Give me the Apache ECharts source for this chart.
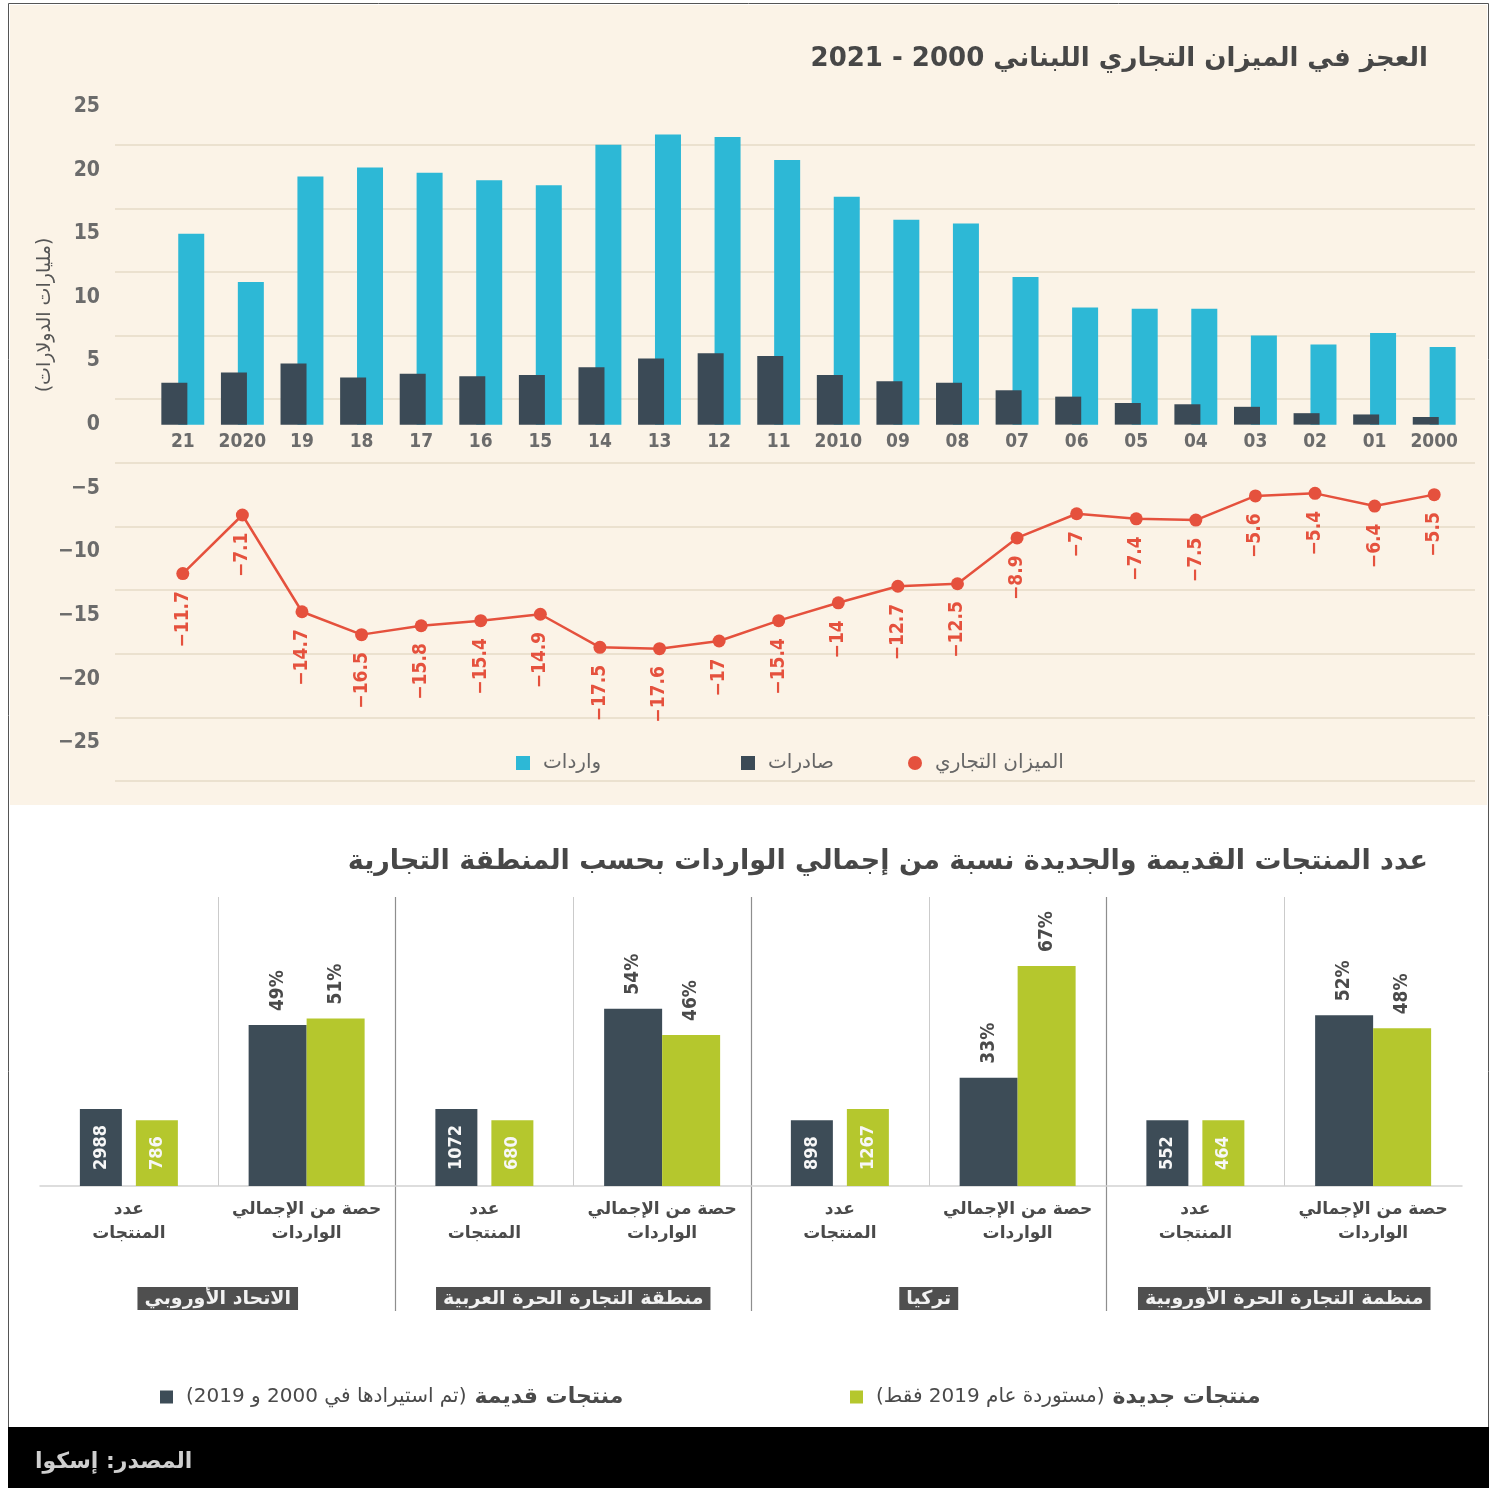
<!DOCTYPE html>
<html lang="ar">
<head>
<meta charset="utf-8">
<title>الميزان التجاري اللبناني</title>
<script src="https://cdn.jsdelivr.net/npm/echarts@6/dist/echarts.min.js"></script>
<style>
  html, body { margin: 0; padding: 0; background: #ffffff; }
  #chart { width: 1495px; height: 1488px; }
</style>
</head>
<body>
<div id="chart"></div>
<script>
// Lebanese trade, 2021 back to 2000 (billions of dollars)
const years = ['21', '2020', '19', '18', '17', '16', '15', '14', '13', '12', '11',
               '2010', '09', '08', '07', '06', '05', '04', '03', '02', '01', '2000'];
const importsBn = [15.0, 11.2, 19.5, 20.2, 19.8, 19.2, 18.8, 22.0, 22.8, 22.6, 20.8,
                   17.9, 16.1, 15.8, 11.6, 9.2, 9.1, 9.1, 7.0, 6.3, 7.2, 6.1];
const exportsBn = [3.3, 4.1, 4.8, 3.7, 4.0, 3.8, 3.9, 4.5, 5.2, 5.6, 5.4,
                   3.9, 3.4, 3.3, 2.7, 2.2, 1.7, 1.6, 1.4, 0.9, 0.8, 0.6];
const balanceBn = [-11.7, -7.1, -14.7, -16.5, -15.8, -15.4, -14.9, -17.5, -17.6, -17, -15.4,
                   -14, -12.7, -12.5, -8.9, -7, -7.4, -7.5, -5.6, -5.4, -6.4, -5.5];

// Old and new products by trade area
const regions = ['الاتحاد الأوروبي', 'منطقة التجارة الحرة العربية', 'تركيا', 'منظمة التجارة الحرة الأوروبية'];
const measures = ['عدد\nالمنتجات', 'حصة من الإجمالي\nالواردات'];
const oldCount = [2988, 1072, 898, 552];
const newCount = [786, 680, 1267, 464];
const oldShare = [49, 54, 33, 52];
const newShare = [51, 46, 67, 48];

const NAME_IMP = 'واردات';
const NAME_EXP = 'صادرات';
const NAME_BAL = 'الميزان التجاري';
const NAME_OLD = 'منتجات قديمة';
const NAME_NEW = 'منتجات جديدة';
const NOTE_OLD = '(تم استيرادها في 2000 و 2019)';
const NOTE_NEW = '(مستوردة عام 2019 فقط)';

const AR = "'DejaVu Sans', sans-serif";
const NUM = "'Liberation Sans Narrow', 'DejaVu Sans Condensed', 'Roboto', sans-serif";
const NUM_C = "'DejaVu Sans Condensed', 'DejaVu Sans', sans-serif";

const C_IMP = '#2db8d6';
const C_EXP = '#3b4a56';
const C_BAL = '#e5513d';
const C_OLD = '#3d4c57';
const C_NEW = '#b5c72d';
const C_GRID = '#ebe1cf';

// shared value range of the upper panel (bars above zero, balance below)
const Y_MIN = -28;
const Y_MAX = 27;
const PANEL_TOP = 81;
const PANEL_H = 700;
const ZERO_SHIFT = Math.round(PANEL_H * (0 - Y_MIN) / (Y_MAX - Y_MIN));

const minus = s => String(s).replace('-', '\u2212');

// eight bottom categories: each area has a count column and a share column
const areaCats = regions.flatMap((r, i) => measures.map((m, j) => r + '#' + j));
const shareOf = arr => arr.flatMap(v => [null, v]);
const countOf = arr => arr.map((v, i) => [i * 2, v]);

function countBox(color, side) {
  return function (params, api) {
    const p = api.coord([api.value(0), 0]);
    return {
      type: 'text',
      x: p[0] + side * 28,
      y: p[1],
      rotation: Math.PI / 2,
      style: {
        text: String(api.value(1)),
        fill: '#f7f7f7',
        font: 'bold 18px ' + NUM_C,
        backgroundColor: color,
        padding: [11, 16, 11, 16],
        lineHeight: 20,
        align: 'left',
        verticalAlign: 'middle'
      }
    };
  };
}

const legendText = { color: '#666', fontSize: 20, fontFamily: AR, padding: [0, 0, 0, 8] };
const bottomLegendRich = {
  rich: {
    n: { fontSize: 20, color: '#4a4a4a', fontFamily: AR },
    b: { fontSize: 22, fontWeight: 'bold', color: '#4a4a4a', fontFamily: AR, padding: [0, 0, 0, 8] }
  },
  padding: [0, 0, 0, 8]
};

const chart = echarts.init(document.getElementById('chart'), null, { renderer: 'canvas' });

chart.setOption({
  backgroundColor: '#ffffff',
  animation: false,
  graphic: [
    { type: 'rect', z: -100, silent: true, shape: { x: 8.5, y: 3.5, width: 1480, height: 1424 },
      style: { fill: '#ffffff', stroke: '#555', lineWidth: 1 } },
    { type: 'rect', z: -99, silent: true, shape: { x: 10, y: 5, width: 1477, height: 800 },
      style: { fill: '#fbf3e7' } },
    { type: 'rect', z: -99, silent: true, shape: { x: 8, y: 1427, width: 1481, height: 61 },
      style: { fill: '#000000' } },
    { type: 'text', z: 100, x: 35, y: 1462, silent: true,
      style: { text: 'المصدر: إسكوا', fill: '#cfcfcf', font: 'bold 22px ' + AR,
               align: 'left', verticalAlign: 'middle' } },
    { type: 'text', z: 100, x: 45, y: 315, rotation: Math.PI / 2, silent: true,
      style: { text: '(مليارات الدولارات)', fill: '#555', font: '19px ' + AR,
               align: 'center', verticalAlign: 'middle' } }
  ],
  title: [
    { text: 'العجز في الميزان التجاري اللبناني 2000 - 2021', right: 62, top: 41,
      textStyle: { fontSize: 26, fontWeight: 'bold', color: '#474747', fontFamily: AR } },
    { text: 'عدد المنتجات القديمة والجديدة نسبة من إجمالي الواردات بحسب المنطقة التجارية',
      right: 62, top: 843,
      textStyle: { fontSize: 27, fontWeight: 'bold', color: '#474747', fontFamily: AR } }
  ],
  legend: [
    { data: [{ name: NAME_IMP, icon: 'rect' }], left: 511, top: 748, itemWidth: 14, itemHeight: 14,
      textStyle: legendText, selectedMode: false },
    { data: [{ name: NAME_EXP, icon: 'rect' }], left: 736, top: 748, itemWidth: 14, itemHeight: 14,
      textStyle: legendText, selectedMode: false },
    { data: [{ name: NAME_BAL, icon: 'circle' }], left: 903, top: 748, itemWidth: 14, itemHeight: 14,
      textStyle: legendText, selectedMode: false },
    { data: [{ name: NAME_OLD, icon: 'rect' }], left: 155, top: 1381, itemWidth: 13, itemHeight: 13,
      formatter: () => '{n|' + NOTE_OLD + '}{b|' + NAME_OLD + '}', textStyle: bottomLegendRich,
      selectedMode: false },
    { data: [{ name: NAME_NEW, icon: 'rect' }], left: 845, top: 1381, itemWidth: 13, itemHeight: 13,
      formatter: () => '{n|' + NOTE_NEW + '}{b|' + NAME_NEW + '}', textStyle: bottomLegendRich,
      selectedMode: false }
  ],
  grid: [
    // value scale and its gridlines (spans wider than the bars)
    { left: 115, right: 20, top: PANEL_TOP, height: PANEL_H, containLabel: false },
    // bars and balance line
    { left: 153, right: 31, top: PANEL_TOP, height: PANEL_H, containLabel: false },
    // trade-area groups with their dividers and name tags
    { left: 40, right: 33, top: 897, bottom: 177, containLabel: false },
    // old/new product columns
    { left: 40, right: 33, top: 897, bottom: 302, containLabel: false }
  ],
  xAxis: [
    { gridIndex: 0, type: 'category', data: years, show: false },
    // year labels sit on the zero line, between the bars and the balance line
    { gridIndex: 1, type: 'category', data: years, position: 'bottom', offset: -ZERO_SHIFT,
      axisLine: { show: false }, axisTick: { show: false },
      axisLabel: { interval: 0, margin: 8, color: '#6b6b6b', fontSize: 19, fontWeight: 'bold', fontFamily: NUM } },
    { gridIndex: 2, type: 'category', data: regions,
      axisLine: { show: false }, axisTick: { show: false, interval: 0 },
      axisLabel: { interval: 0, inside: true, margin: 1, color: '#f2f2f2', fontSize: 19, fontWeight: 'bold',
                   fontFamily: AR, backgroundColor: '#4f4f4f', padding: [2, 7, 1, 7], lineHeight: 20 },
      splitLine: { show: true, interval: 0,
                   lineStyle: { color: ['transparent', '#8e8e8e', '#8e8e8e', '#8e8e8e', 'transparent'], width: 1.2 } } },
    { gridIndex: 3, type: 'category', data: areaCats,
      axisLine: { show: true, lineStyle: { color: '#d2d2d2', width: 1.5 } }, axisTick: { show: false, interval: 0 },
      axisLabel: { interval: 0, margin: 12, color: '#4a4a4a', fontSize: 17, fontWeight: 'bold', fontFamily: AR,
                   lineHeight: 24, formatter: (v, i) => measures[i % 2] },
      splitLine: { show: true, interval: 0, lineStyle: { color: ['transparent', '#cbcbcb'], width: 1 } } }
  ],
  yAxis: [
    { gridIndex: 0, type: 'value', min: Y_MIN, max: Y_MAX, interval: 1,
      axisLine: { show: false }, axisTick: { show: false },
      axisLabel: { margin: 15, color: '#6b6b6b', fontSize: 21, fontWeight: 'bold', fontFamily: NUM,
                   formatter: v => (v % 5 === 0 ? minus(v) : '') },
      splitLine: { show: true, showMaxLine: false,
                   lineStyle: { color: [C_GRID, 'transparent', 'transparent', 'transparent', 'transparent'], width: 2 } } },
    { gridIndex: 1, type: 'value', min: Y_MIN, max: Y_MAX, show: false, splitLine: { show: false } },
    { gridIndex: 2, type: 'value', min: 0, max: 1, show: false, splitLine: { show: false } },
    { gridIndex: 3, type: 'value', min: 0, max: 88, show: false, splitLine: { show: false } }
  ],
  series: [
    { name: NAME_EXP, type: 'bar', xAxisIndex: 1, yAxisIndex: 1, data: exportsBn,
      barWidth: 26, barGap: '-35%', z: 3, itemStyle: { color: C_EXP } },
    { name: NAME_IMP, type: 'bar', xAxisIndex: 1, yAxisIndex: 1, data: importsBn,
      barWidth: 26, barGap: '-35%', z: 2, itemStyle: { color: C_IMP } },
    { name: NAME_BAL, type: 'line', xAxisIndex: 1, yAxisIndex: 1, data: balanceBn, z: 4,
      symbol: 'circle', symbolSize: 13,
      lineStyle: { color: C_BAL, width: 2.5 }, itemStyle: { color: C_BAL },
      label: { show: true, position: 'bottom', rotate: 90, align: 'right', verticalAlign: 'middle',
               distance: 11, color: C_BAL, fontSize: 19, fontWeight: 'bold', fontFamily: NUM_C,
               formatter: p => minus(p.value) } },
    { name: NAME_OLD, type: 'bar', xAxisIndex: 3, yAxisIndex: 3, data: shareOf(oldShare),
      barWidth: 58, barGap: '0%', itemStyle: { color: C_OLD },
      label: { show: true, position: 'top', rotate: 90, align: 'left', verticalAlign: 'middle',
               distance: 14, color: '#4a4a4a', fontSize: 19, fontWeight: 'bold', fontFamily: NUM_C,
               formatter: p => p.value + '%' } },
    { name: NAME_NEW, type: 'bar', xAxisIndex: 3, yAxisIndex: 3, data: shareOf(newShare),
      barWidth: 58, barGap: '0%', itemStyle: { color: C_NEW },
      label: { show: true, position: 'top', rotate: 90, align: 'left', verticalAlign: 'middle',
               distance: 14, color: '#4a4a4a', fontSize: 19, fontWeight: 'bold', fontFamily: NUM_C,
               formatter: p => p.value + '%' } },
    { name: NAME_OLD, type: 'custom', xAxisIndex: 3, yAxisIndex: 3, data: countOf(oldCount),
      encode: { x: 0, y: 1 }, itemStyle: { color: C_OLD }, renderItem: countBox(C_OLD, -1), z: 5 },
    { name: NAME_NEW, type: 'custom', xAxisIndex: 3, yAxisIndex: 3, data: countOf(newCount),
      encode: { x: 0, y: 1 }, itemStyle: { color: C_NEW }, renderItem: countBox(C_NEW, 1), z: 5 }
  ]
});
</script>
</body>
</html>
